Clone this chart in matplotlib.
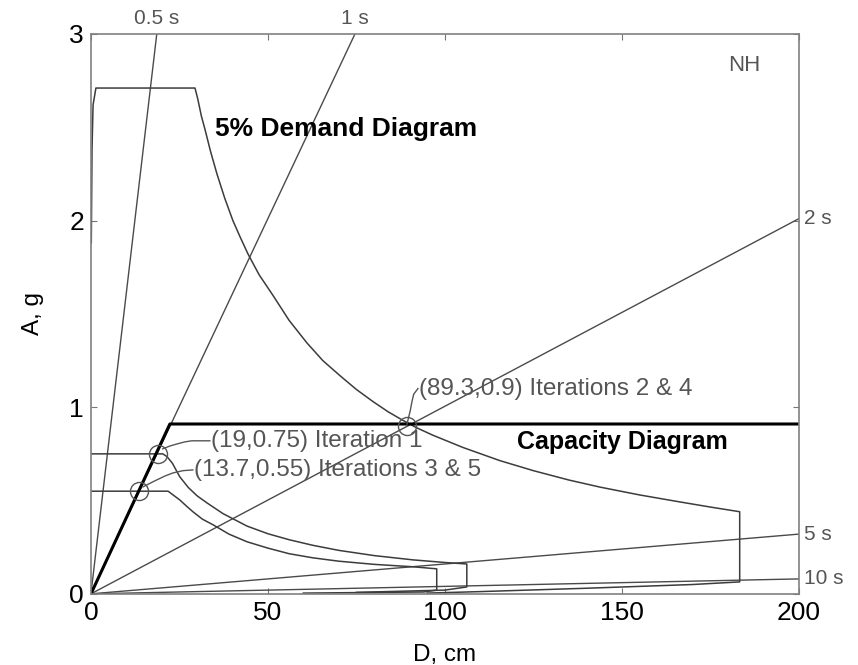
import matplotlib
matplotlib.use("Agg")
import matplotlib.pyplot as plt

plt.rcParams["font.family"] = ["Liberation Sans", "DejaVu Sans"]

# 5% damped demand spectrum in ADRS format (D in cm, A in g)
demand_d = [0.1, 0.3, 0.6, 1.4, 29.4, 30.2, 31.2, 32.2, 33.8, 35.6, 37.8, 40.1, 42.2,
            44.4, 47.5, 51.4, 56.0, 61.0, 65.5, 70.3, 75.0, 79.7, 84.0, 88.1, 92.0,
            96.6, 105.0, 115.5, 125.0, 135.0, 143.8, 155.0, 165.0, 175.0, 183.3,
            183.3, 170.0, 140.0, 110.0, 95.0]
demand_a = [1.88, 2.38, 2.62, 2.71, 2.71, 2.65, 2.56, 2.49, 2.37, 2.25, 2.12, 2.00, 1.91,
            1.82, 1.71, 1.60, 1.465, 1.345, 1.25, 1.17, 1.095, 1.03, 0.975, 0.93, 0.89,
            0.85, 0.785, 0.714, 0.66, 0.61, 0.572, 0.53, 0.497, 0.465, 0.44,
            0.064, 0.050, 0.030, 0.012, 0.004]

# reduced (inelastic) demand spectra from the iterations
iter1_d = [0.0, 20.3, 21.5, 23.0, 25.1, 27.5, 30.0, 32.8, 37.3, 44.1, 50.0, 56.0, 62.7,
           70.0, 80.0, 91.0, 100.0, 106.2, 106.2, 100.0, 75.0]
iter1_a = [0.75, 0.75, 0.735, 0.70, 0.627, 0.57, 0.525, 0.487, 0.43, 0.363, 0.322, 0.29,
           0.26, 0.233, 0.205, 0.182, 0.168, 0.16, 0.037, 0.02, 0.008]
iter35_d = [0.0, 21.8, 23.2, 25.1, 27.0, 28.8, 31.5, 34.5, 39.0, 44.1, 50.0, 56.0, 62.7,
            70.0, 80.0, 91.0, 97.7, 97.7, 94.0, 60.0]
iter35_a = [0.55, 0.55, 0.53, 0.503, 0.47, 0.44, 0.40, 0.37, 0.32, 0.279, 0.245, 0.215,
            0.193, 0.175, 0.158, 0.145, 0.134, 0.02, 0.01, 0.004]

# bilinear capacity diagram
cap_d = [0.0, 22.3, 200.0]
cap_a = [0.0, 0.91, 0.91]

# constant-period radial lines: label, end point on the axes border
period_labels = ["0.5 s", "1 s", "2 s", "5 s", "10 s"]
period_end_d = [18.6, 74.6, 200.0, 200.0, 200.0]
period_end_a = [3.0, 3.0, 2.01, 0.32, 0.08]

# performance points found by the iterations
perf_d = [19.0, 13.7, 89.3]
perf_a = [0.75, 0.55, 0.9]
perf_text = ["(19,0.75) Iteration 1", "(13.7,0.55) Iterations 3 & 5",
             "(89.3,0.9) Iterations 2 & 4"]
# leader lines from each point to its text
leader_d = [[20.3, 22.3, 24.3, 26.5, 28.5, 33.6],
            [14.7, 18.0, 21.0, 23.2, 26.0, 28.8],
            [89.3, 90.2, 90.7, 91.2, 92.4]]
leader_a = [[0.777, 0.792, 0.803, 0.814, 0.82, 0.82],
            [0.573, 0.605, 0.632, 0.648, 0.66, 0.664],
            [0.91, 0.98, 1.03, 1.07, 1.10]]

line_col = "#3c3c3c"
grey_txt = "#555555"

fig = plt.figure(figsize=(8.58, 6.65), dpi=100)
ax = fig.add_axes([0.106, 0.107, 0.825, 0.842])

for i in range(len(period_labels)):
    ax.plot([0, period_end_d[i]], [0, period_end_a[i]], color="#4a4a4a", lw=1.0)
    if period_end_a[i] >= 3.0:
        ax.text(period_end_d[i], 3.03, period_labels[i], ha="center", va="bottom",
                fontsize=15, color=grey_txt)
    else:
        ax.text(201.5, period_end_a[i], period_labels[i], ha="left", va="center",
                fontsize=15, color=grey_txt, clip_on=False)

ax.plot(demand_d, demand_a, color=line_col, lw=1.1)
ax.plot(iter1_d, iter1_a, color=line_col, lw=1.1)
ax.plot(iter35_d, iter35_a, color=line_col, lw=1.1)
ax.plot(cap_d, cap_a, color="black", lw=2.2)

ax.plot(perf_d, perf_a, "o", ms=13, mfc="none", mec="#555555", mew=1.0)
for i in range(len(perf_text)):
    ax.plot(leader_d[i], leader_a[i], color="#555555", lw=1.0)
    ax.text(leader_d[i][-1] + 0.3, leader_a[i][-1], perf_text[i], ha="left",
            va="center", fontsize=17.5, color=grey_txt)

ax.text(35, 2.49, "5% Demand Diagram", fontsize=19, fontweight="bold", va="center")
ax.text(120.3, 0.815, "Capacity Diagram", fontsize=18, fontweight="bold", va="center")
ax.text(184.7, 2.83, "NH", fontsize=16, color=grey_txt, ha="center", va="center")

ax.set_xlim(0, 200)
ax.set_ylim(0, 3)
ax.set_xticks([0, 50, 100, 150, 200])
ax.set_yticks([0, 1, 2, 3])
ax.tick_params(direction="in", length=4, width=0.8, colors="#777777",
               labelcolor="black", labelsize=19, top=True, right=True, pad=5)
for s in ax.spines.values():
    s.set_color("#808080")
    s.set_linewidth(1.2)

ax.set_xlabel("D, cm", fontsize=17.5, labelpad=14)
ax.set_ylabel("A, g", fontsize=17.5, labelpad=18)

fig.savefig("out.png", dpi=100)
